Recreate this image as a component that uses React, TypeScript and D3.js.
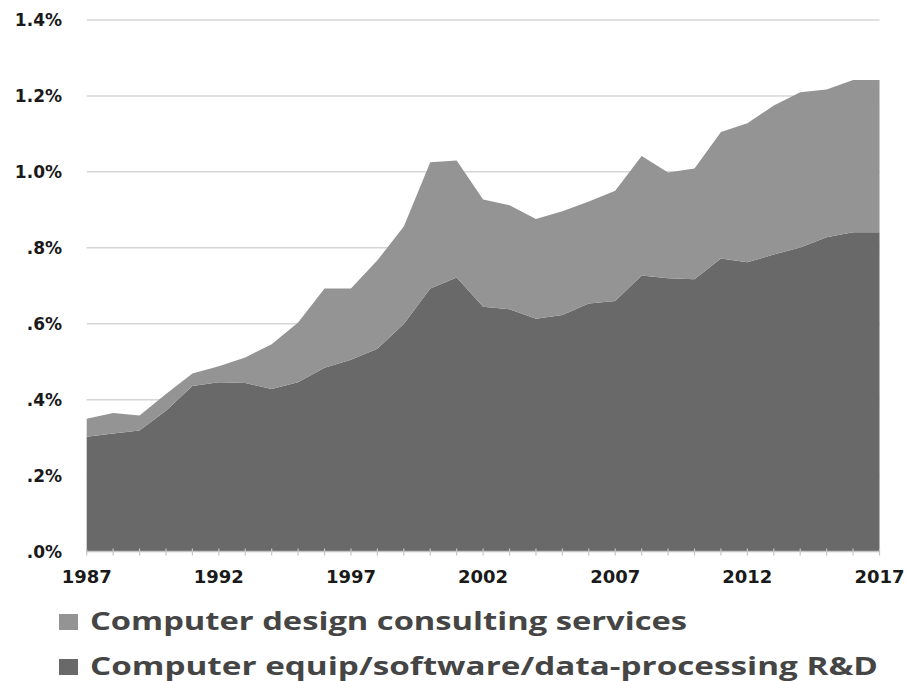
import React from "react";
import * as d3 from "d3";

const years = [1987, 1988, 1989, 1990, 1991, 1992, 1993, 1994, 1995, 1996, 1997, 1998, 1999, 2000, 2001, 2002, 2003, 2004, 2005, 2006, 2007, 2008, 2009, 2010, 2011, 2012, 2013, 2014, 2015, 2016, 2017];
const rdValues = [0.302, 0.311, 0.319, 0.371, 0.436, 0.446, 0.444, 0.428, 0.446, 0.484, 0.505, 0.534, 0.599, 0.693, 0.722, 0.645, 0.638, 0.613, 0.623, 0.653, 0.660, 0.727, 0.720, 0.717, 0.772, 0.762, 0.782, 0.801, 0.828, 0.841, 0.841];
const consultingValues = [0.048, 0.054, 0.039, 0.044, 0.033, 0.042, 0.067, 0.118, 0.157, 0.209, 0.188, 0.233, 0.257, 0.332, 0.308, 0.282, 0.274, 0.263, 0.273, 0.269, 0.290, 0.315, 0.278, 0.292, 0.333, 0.366, 0.393, 0.409, 0.389, 0.401, 0.401];
const yTickValues = [0, 0.2, 0.4, 0.6, 0.8, 1.0, 1.2, 1.4];
const yTickLabels = [".0%", ".2%", ".4%", ".6%", ".8%", "1.0%", "1.2%", "1.4%"];
const xTickLabels = [1987, 1992, 1997, 2002, 2007, 2012, 2017];
const seriesKeys = ["rd", "consulting"];
const legendLabels = ["Computer design consulting services", "Computer equip/software/data-processing R&D"];

const W = 907;
const H = 681;
const colors: Record<string, string> = { rd: "#696969", consulting: "#949494" };

export default function App() {
  const x = d3.scaleLinear().domain([1987, 2017]).range([86.7, 879.5]);
  const y = d3.scaleLinear().domain([0, 1.4]).range([551.5, 20]);

  const table = years.map((yr, i) => ({ year: yr, rd: rdValues[i], consulting: consultingValues[i] }));
  const stacked = d3.stack<any>().keys(seriesKeys)(table);
  const area = d3
    .area<any>()
    .x((d) => x(d.data.year))
    .y0((d) => y(d[0]))
    .y1((d) => y(d[1]));

  const tickFont = "'DejaVu Sans', Verdana, sans-serif";
  const legendFont = "'Open Sans', 'Noto Sans', sans-serif";

  return (
    <div style={{ position: "absolute", left: 0, top: 0 }}>
      <svg width={W} height={H} viewBox={`0 0 ${W} ${H}`} style={{ display: "block", background: "#fff" }}>
        <rect x={0} y={0} width={W} height={H} fill="#fff" />
        {/* gridlines */}
        {yTickValues.slice(1).map((v) => (
          <line key={"g" + v} x1={x(1987)} x2={x(2017)} y1={y(v)} y2={y(v)} stroke="#d6d6d6" strokeWidth={1.5} />
        ))}
        {/* areas */}
        {stacked.map((s) => (
          <path key={s.key} d={area(s) || ""} fill={colors[s.key]} />
        ))}
        {/* axis line and ticks */}
        <line x1={x(1987)} x2={x(2017)} y1={y(0)} y2={y(0)} stroke="#c4c4c4" strokeWidth={1.5} />
        {years.map((yr) => (
          <line key={"t" + yr} x1={x(yr)} x2={x(yr)} y1={y(0) - 3} y2={y(0) + 4} stroke="#c4c4c4" strokeWidth={1.2} />
        ))}
        {/* y labels */}
        {yTickValues.map((v, i) => (
          <text
            key={"yl" + v}
            x={62}
            y={y(v)}
            dy="0.36em"
            textAnchor="end"
            fontFamily={tickFont}
            fontWeight="bold"
            fontSize={17}
            fill="#1a1a1a"
          >
            {yTickLabels[i]}
          </text>
        ))}
        {/* x labels */}
        {xTickLabels.map((yr) => (
          <text
            key={"xl" + yr}
            x={x(yr)}
            y={583}
            textAnchor="middle"
            fontFamily={tickFont}
            fontWeight="bold"
            fontSize={18}
            fill="#1a1a1a"
          >
            {yr}
          </text>
        ))}
        {/* legend */}
        {legendLabels.map((label, i) => {
          const key = i === 0 ? "consulting" : "rd";
          const baseY = i === 0 ? 630 : 675;
          const len = i === 0 ? 597 : 788;
          return (
            <g key={"lg" + i}>
              <rect x={59} y={baseY - 16} width={19} height={16} fill={colors[key]} />
              <text
                x={90}
                y={baseY}
                fontFamily={legendFont}
                fontWeight="bold"
                fontSize={25}
                fill="#454545"
                textLength={len}
                lengthAdjust="spacingAndGlyphs"
              >
                {label}
              </text>
            </g>
          );
        })}
      </svg>
    </div>
  );
}
